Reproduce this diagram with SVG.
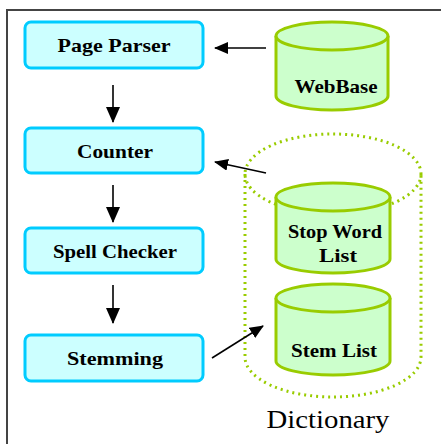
<svg xmlns="http://www.w3.org/2000/svg" width="441" height="444" viewBox="0 0 441 444">
<defs>
<style>
.box{fill:#ccffff;stroke:#00ccff;stroke-width:3}
.lbl{font-family:"Liberation Serif",serif;font-weight:bold;font-size:19px;fill:#000;text-anchor:middle}
.cyl{fill:#ccffcc;stroke:#99cc00;stroke-width:3}
.dot{fill:none;stroke:#99cc00;stroke-width:3;stroke-dasharray:2 4}
.conn{stroke:#000;stroke-width:1.6;fill:none}
</style>
<marker id="ahb" viewBox="0 0 16 14" refX="15" refY="7" markerWidth="16" markerHeight="14" markerUnits="userSpaceOnUse" orient="auto">
<path d="M0,0 L16,7 L0,14 z" fill="#000"/>
</marker>
<marker id="ahs" viewBox="0 0 14 12" refX="13" refY="6" markerWidth="14" markerHeight="12" markerUnits="userSpaceOnUse" orient="auto">
<path d="M0,0 L14,6 L0,12 z" fill="#000"/>
</marker>
</defs>
<rect width="441" height="444" fill="#fff"/>
<path d="M7,444 V10 H441" fill="none" stroke="#444" stroke-width="2"/>

<g id="dictionary">
<path class="dot" d="M245,174 V357 A88,40 0 0 0 421,357 V174"/>
<ellipse class="dot" cx="333" cy="174" rx="88" ry="40"/>
<text x="328" y="428" font-family="Liberation Serif,serif" font-size="25" text-anchor="middle" textLength="123" lengthAdjust="spacingAndGlyphs">Dictionary</text>
</g>

<g id="webbase">
<path class="cyl" d="M276,36 V96 A56,14 0 0 0 388,96 V36"/>
<ellipse class="cyl" cx="332" cy="36" rx="56" ry="14"/>
<text class="lbl" x="336" y="93" textLength="83" lengthAdjust="spacingAndGlyphs">WebBase</text>
</g>

<g id="stopword">
<path class="cyl" d="M276,197 V259 A57,14 0 0 0 390,259 V197"/>
<ellipse class="cyl" cx="333" cy="197" rx="57" ry="14"/>
<text class="lbl" x="335" y="238" textLength="94" lengthAdjust="spacingAndGlyphs">Stop Word</text>
<text class="lbl" x="338" y="262" textLength="38" lengthAdjust="spacingAndGlyphs">List</text>
</g>

<g id="stemlist">
<path class="cyl" d="M276,298 V361 A57,14 0 0 0 390,361 V298"/>
<ellipse class="cyl" cx="333" cy="298" rx="57" ry="14"/>
<text class="lbl" x="334" y="357" textLength="86" lengthAdjust="spacingAndGlyphs">Stem List</text>
</g>

<g id="pageparser">
<rect class="box" x="25" y="22" width="178" height="46" rx="6"/>
<text class="lbl" x="114" y="52" textLength="113" lengthAdjust="spacingAndGlyphs">Page Parser</text>
</g>
<g id="counter">
<rect class="box" x="25" y="128" width="178" height="45" rx="6"/>
<text class="lbl" x="115" y="158" textLength="76" lengthAdjust="spacingAndGlyphs">Counter</text>
</g>
<g id="spellchecker">
<rect class="box" x="25" y="228" width="178" height="45" rx="6"/>
<text class="lbl" x="115" y="258" textLength="124" lengthAdjust="spacingAndGlyphs">Spell Checker</text>
</g>
<g id="stemming">
<rect class="box" x="25" y="335" width="178" height="46" rx="6"/>
<text class="lbl" x="115" y="365" textLength="96" lengthAdjust="spacingAndGlyphs">Stemming</text>
</g>

<g id="connectors">
<line class="conn" x1="113" y1="85" x2="113" y2="122" marker-end="url(#ahb)"/>
<line class="conn" x1="113" y1="185" x2="113" y2="222" marker-end="url(#ahb)"/>
<line class="conn" x1="113" y1="285" x2="113" y2="323" marker-end="url(#ahb)"/>
<line class="conn" x1="266" y1="48" x2="215" y2="48" marker-end="url(#ahs)"/>
<line class="conn" x1="266" y1="173" x2="215" y2="162" marker-end="url(#ahs)"/>
<line class="conn" x1="212" y1="358" x2="263" y2="326" stroke-width="1.2" marker-end="url(#ahs)"/>
</g>
</svg>
